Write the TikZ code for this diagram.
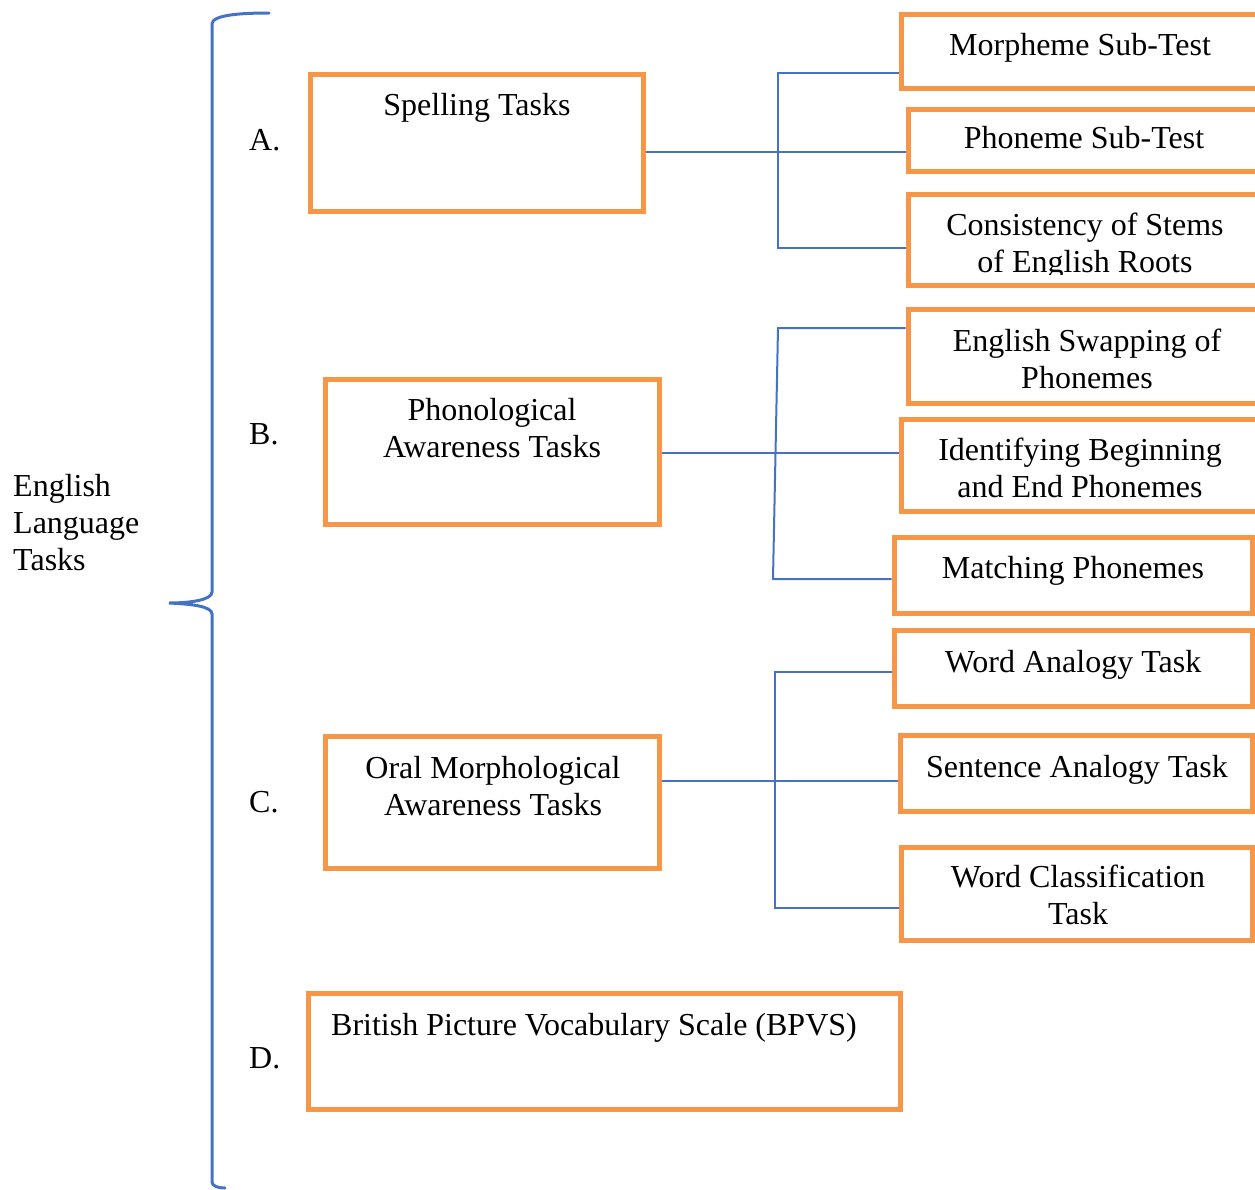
\documentclass[tikz,border=0pt]{standalone}
\usepackage{fontspec}
\setmainfont{Liberation Serif}
\usetikzlibrary{fit}
\definecolor{boxorange}{HTML}{F79646}
\definecolor{linkblue}{HTML}{4472C4}

\begin{document}
\begin{tikzpicture}[x=1pt,y=-1pt,
  taskbox/.style={draw=boxorange, line width=5pt, inner sep=0pt, rectangle},
  txt/.style={font=\fontsize{32}{37}\selectfont, inner sep=0pt, anchor=base, align=center},
  connector/.style={draw=linkblue, line width=2pt},
  bracestroke/.style={draw=linkblue, line width=3pt, line cap=round}
]
\useasboundingbox (0,0) rectangle (1255,1189);
\clip (0,0) rectangle (1255,1189);

% ---- main task boxes
\node[taskbox, fit={(310,74)(643,211)}]   (spell) {};
\node[taskbox, fit={(325,379)(659,524)}]  (phono) {};
\node[taskbox, fit={(325,736)(659,868)}]  (oral)  {};
\node[taskbox, fit={(308,993)(900,1109)}] (bpvs)  {};

% ---- sub-task boxes
\node[taskbox, fit={(901,14)(1262,88)}]   (morph) {};
\node[taskbox, fit={(908,109)(1262,171)}] (phon)  {};
\node[taskbox, fit={(908,194)(1262,285)}] (cons)  {};
\node[taskbox, fit={(908,309)(1262,403)}] (swap)  {};
\node[taskbox, fit={(901,419)(1262,511)}] (ident) {};
\node[taskbox, fit={(894,537)(1252,613)}] (match) {};
\node[taskbox, fit={(894,630)(1252,706)}] (wana)  {};
\node[taskbox, fit={(900,735)(1252,811)}] (sana)  {};
\node[taskbox, fit={(901,847)(1252,940)}] (wcls)  {};

% ---- texts of the main boxes and their letters
% (multi-line texts are placed by the baseline of their last line)
\node[txt] (spellT) at (477,115) {Spelling Tasks};
\node[txt] (phonoT) at (492,457) {Phonological\\Awareness Tasks};
\node[txt] (oralT)  at (493,815) {Oral Morphological\\Awareness Tasks};
\node[txt, anchor=base west] (bpvsT) at (331,1035) {British Picture Vocabulary Scale (BPVS)};
\node[txt, anchor=base west] (labA) at (249,150)  {A.};
\node[txt, anchor=base west] (labB) at (249,444)  {B.};
\node[txt, anchor=base west] (labC) at (249,812)  {C.};
\node[txt, anchor=base west] (labD) at (249,1068) {D.};
\node[txt, anchor=base west, align=left] (root) at (13,570) {English\\Language\\Tasks};

% ---- texts of the sub-task boxes
\node[txt] (morphT) at (1080,55)  {Morpheme Sub-Test};
\node[txt] (phonT)  at (1084,148) {Phoneme Sub-Test};
\begin{scope}
  \clip (900,190) rectangle (1262,274);
  \node[txt] (consT) at (1085,272) {Consistency of Stems\\of English Roots};
\end{scope}
\node[txt] (swapT)  at (1087,388) {English Swapping of\\Phonemes};
\node[txt] (identT) at (1080,497) {Identifying Beginning\\and End Phonemes};
\node[txt] (matchT) at (1073,578) {Matching Phonemes};
\node[txt] (wanaT)  at (1073,672) {Word Analogy Task};
\node[txt] (sanaT)  at (1077,777) {Sentence Analogy Task};
\node[txt] (wclsT)  at (1078,924) {Word Classification\\Task};

% ---- branch connectors
\coordinate (jA)  at (778,152);
\coordinate (jAt) at (778,73);
\coordinate (jAb) at (778,248);
\draw[connector] (spell.east |- jA) -- (phon.west |- jA);
\draw[connector] (morph.west |- jAt) -- (jAt) -- (jAb) -- (cons.west |- jAb);

\coordinate (jB)  at (776,453);
\coordinate (jBt) at (778,328);
\coordinate (jBb) at (773,579);
\draw[connector] (phono.east |- jB) -- (ident.west |- jB);
\draw[connector] (swap.west |- jBt) -- (jBt) -- (jBb) -- (match.west |- jBb);

\coordinate (jC)  at (775,781);
\coordinate (jCt) at (775,672);
\coordinate (jCb) at (775,908);
\draw[connector] (oral.east |- jC) -- (sana.west |- jC);
\draw[connector] (wana.west |- jCt) -- (jCt) -- (jCb) -- (wcls.west |- jCb);

% ---- curly brace gathering the four task groups
\coordinate (tip) at (169,603);
\draw[bracestroke] (269,13) .. controls (240,13) and (212,15) .. (212,24)
  -- (212,592) .. controls (212,600) and (190,603) .. (tip)
  .. controls (190,604) and (212,606) .. (212,614)
  -- (212,1182) .. controls (212,1186) and (218,1188) .. (225,1188);
\end{tikzpicture}
\end{document}
